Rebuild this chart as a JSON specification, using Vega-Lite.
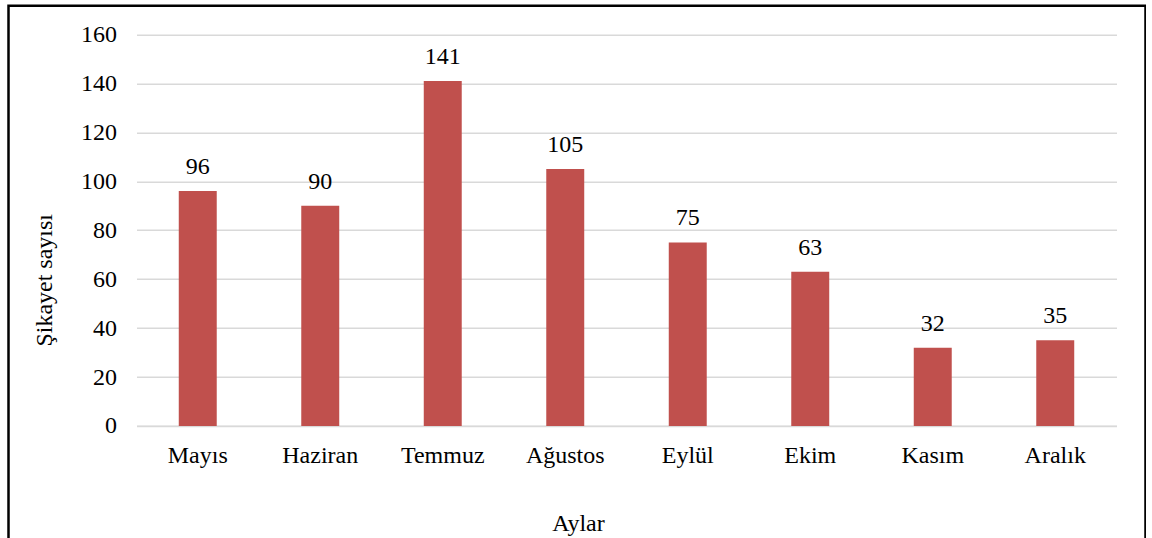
{
  "$schema": "https://vega.github.io/schema/vega-lite/v6.json",
  "autosize": "none",
  "width": 1137,
  "height": 545,
  "padding": {"left": 8.5, "top": 5.8, "right": 0, "bottom": 0},
  "background": "white",
  "config": {
    "view": {"stroke": "#000000", "strokeWidth": 2.5},
    "font": "Liberation Serif"
  },
  "data": {
    "values": [
      {"month": "Mayıs", "count": 96},
      {"month": "Haziran", "count": 90},
      {"month": "Temmuz", "count": 141},
      {"month": "Ağustos", "count": 105},
      {"month": "Eylül", "count": 75},
      {"month": "Ekim", "count": 63},
      {"month": "Kasım", "count": 32},
      {"month": "Aralık", "count": 35}
    ]
  },
  "encoding": {
    "x": {
      "field": "month",
      "type": "nominal",
      "sort": null,
      "scale": {"range": [128, 1108], "paddingInner": 0.69, "paddingOuter": 0.345},
      "axis": {
        "title": "Aylar",
        "offset": -124.8,
        "labelAngle": 0,
        "ticks": false,
        "grid": false,
        "domainColor": "#D9D9D9",
        "domainWidth": 1.5,
        "labelPadding": 18,
        "labelFont": "Liberation Serif",
        "labelFontSize": 24,
        "labelColor": "#000000",
        "titleFont": "Liberation Serif",
        "titleFontSize": 24,
        "titleFontWeight": "normal",
        "titleColor": "#000000",
        "titlePadding": 44,
        "titleX": 569.5
      }
    },
    "y": {
      "field": "count",
      "type": "quantitative",
      "scale": {"domain": [0, 160], "range": [420.2, 28.7], "nice": false},
      "axis": {
        "title": "Şikayet sayısı",
        "offset": -128,
        "values": [0, 20, 40, 60, 80, 100, 120, 140, 160],
        "ticks": false,
        "domain": false,
        "gridColor": "#D9D9D9",
        "gridWidth": 1.5,
        "labelPadding": 20,
        "labelFont": "Liberation Serif",
        "labelFontSize": 24,
        "labelColor": "#000000",
        "titleFont": "Liberation Serif",
        "titleFontSize": 24,
        "titleFontWeight": "normal",
        "titleColor": "#000000",
        "titlePadding": 24,
        "titleY": 274
      }
    }
  },
  "layer": [
    {"mark": {"type": "bar", "color": "#C0504D"}},
    {
      "mark": {"type": "text", "dy": -17, "baseline": "alphabetic", "fontSize": 24, "font": "Liberation Serif", "color": "#000000"},
      "encoding": {"text": {"field": "count", "type": "quantitative"}}
    }
  ]
}
